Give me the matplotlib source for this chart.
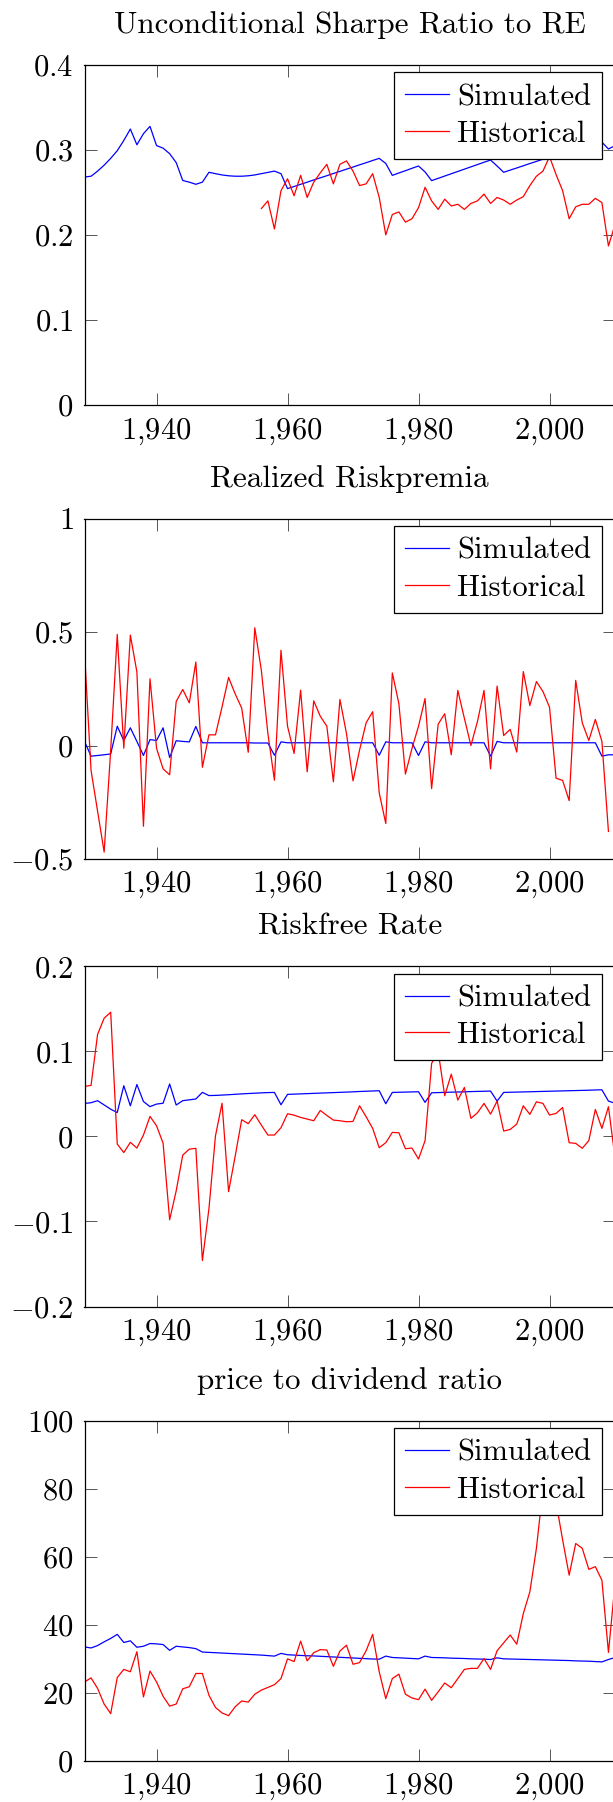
import matplotlib
matplotlib.use("Agg")
import matplotlib.pyplot as plt
from matplotlib.ticker import FuncFormatter, MultipleLocator

plt.rcParams['font.family'] = 'cmr10'
plt.rcParams['mathtext.fontset'] = 'cm'
plt.rcParams['axes.formatter.use_mathtext'] = True

# years 1929..2010
years = list(range(1929, 2011))

# Unconditional Sharpe ratio
sharpe_sim = [0.268, 0.269, 0.275, 0.282, 0.290, 0.299, 0.311, 0.3245, 0.306, 0.319,
              0.3276, 0.305, 0.302, 0.2955, 0.285, 0.264, 0.262, 0.2595, 0.262, 0.2736,
              0.272, 0.2705, 0.2695, 0.269, 0.269, 0.2695, 0.2705, 0.272, 0.2735, 0.275,
              0.272, 0.2544, 0.2569, 0.2595, 0.2620, 0.2646, 0.2671, 0.2696, 0.2722, 0.2747,
              0.2773, 0.2798, 0.2824, 0.2849, 0.2875, 0.290, 0.284, 0.270, 0.2728, 0.2755,
              0.2783, 0.281, 0.274, 0.2638, 0.2665, 0.2692, 0.2719, 0.2746, 0.2773, 0.280,
              0.2827, 0.2854, 0.288, 0.281, 0.2736, 0.2762, 0.2787, 0.2813, 0.2839, 0.2864,
              0.289, 0.2916, 0.2938, 0.296, 0.2982, 0.3004, 0.3026, 0.3048, 0.307, 0.309,
              0.301, 0.305]
sharpe_hist_years = list(range(1956, 2011))
sharpe_hist = [0.231, 0.240, 0.207, 0.252, 0.266, 0.246, 0.270, 0.244, 0.262, 0.273,
               0.283, 0.260, 0.283, 0.287, 0.275, 0.258, 0.260, 0.272, 0.244, 0.200,
               0.224, 0.227, 0.215, 0.219, 0.232, 0.256, 0.240, 0.230, 0.242, 0.234,
               0.236, 0.230, 0.237, 0.240, 0.248, 0.237, 0.244, 0.241, 0.236, 0.241,
               0.245, 0.258, 0.269, 0.275, 0.292, 0.271, 0.252, 0.219, 0.233, 0.236,
               0.236, 0.243, 0.238, 0.187, 0.212]

# Realized risk premia
rp_sim = [0.018, -0.047, -0.044, -0.041, -0.037, 0.085, 0.022, 0.078, 0.018, -0.044,
          0.026, 0.022, 0.078, -0.053, 0.021, 0.018, 0.016, 0.084, 0.012, 0.012,
          0.012, 0.012, 0.012, 0.012, 0.012, 0.012, 0.011, 0.011, 0.011, -0.043,
          0.016, 0.012, 0.012, 0.012, 0.012, 0.012, 0.012, 0.012, 0.012, 0.012,
          0.012, 0.012, 0.012, 0.012, 0.012, -0.043, 0.016, 0.012, 0.012, 0.012,
          0.012, -0.044, 0.016, 0.012, 0.012, 0.012, 0.012, 0.012, 0.012, 0.012,
          0.012, 0.012, -0.047, 0.018, 0.012, 0.012, 0.012, 0.012, 0.012, 0.012,
          0.012, 0.012, 0.012, 0.012, 0.012, 0.012, 0.012, 0.012, 0.012, -0.047,
          -0.041, -0.041]
rp_hist_years = list(range(1929, 2010))
rp_hist = [0.412, -0.11, -0.29, -0.47, -0.02, 0.49, -0.012, 0.487, 0.324, -0.356,
           0.294, -0.012, -0.103, -0.129, 0.194, 0.247, 0.188, 0.368, -0.096, 0.047,
           0.047, 0.17, 0.30, 0.228, 0.165, -0.03, 0.519, 0.332, 0.053, -0.153,
           0.42, 0.085, -0.035, 0.244, -0.116, 0.197, 0.129, 0.085, -0.16, 0.203,
           0.053, -0.156, -0.02, 0.1, 0.149, -0.209, -0.344, 0.32, 0.185, -0.126,
           -0.013, 0.085, 0.207, -0.19, 0.094, 0.14, -0.041, 0.243, 0.12, 0.0,
           0.106, 0.243, -0.103, 0.262, 0.044, 0.071, -0.029, 0.326, 0.176, 0.282,
           0.238, 0.169, -0.144, -0.154, -0.243, 0.287, 0.10, 0.022, 0.115, 0.018,
           -0.379]

# Riskfree rate
rf_sim = [0.0388, 0.0396, 0.042, 0.037, 0.032, 0.028, 0.0596, 0.036, 0.061, 0.041,
          0.035, 0.038, 0.039, 0.0616, 0.0369, 0.042, 0.043, 0.044, 0.0518, 0.048,
          0.0482, 0.0486, 0.049, 0.0495, 0.05, 0.0504, 0.0508, 0.0512, 0.0515, 0.0517,
          0.0372, 0.0494, 0.0497, 0.050, 0.0503, 0.0506, 0.0509, 0.0512, 0.0515, 0.0518,
          0.0521, 0.0524, 0.0528, 0.0531, 0.0534, 0.0537, 0.0384, 0.0517, 0.0519, 0.0521,
          0.0523, 0.0525, 0.040, 0.0513, 0.0515, 0.0518, 0.052, 0.0522, 0.0524, 0.0527,
          0.0529, 0.0531, 0.0533, 0.0415, 0.0517, 0.0519, 0.0521, 0.0523, 0.0525, 0.0527,
          0.0529, 0.0531, 0.0533, 0.0535, 0.0537, 0.0539, 0.0541, 0.0543, 0.0546, 0.0548,
          0.0415, 0.039]
rf_hist = [0.0588, 0.060, 0.120, 0.139, 0.146, -0.009, -0.019, -0.007, -0.0137, 0.0016,
           0.0235, 0.0125, -0.008, -0.098, -0.064, -0.022, -0.015, -0.014, -0.146, -0.085,
           0.0008, 0.039, -0.065, -0.0235, 0.0196, 0.015, 0.0255, 0.0133, 0.0016, 0.0016,
           0.0102, 0.0266, 0.025, 0.0223, 0.0204, 0.0184, 0.0305, 0.0247, 0.0192, 0.0184,
           0.0172, 0.0176, 0.036, 0.0231, 0.0094, -0.0133, -0.0074, 0.0047, 0.0043, -0.0145,
           -0.0137, -0.0266, -0.005, 0.0858, 0.100, 0.0478, 0.0732, 0.0427, 0.0576, 0.0212,
           0.0278, 0.0388, 0.0262, 0.0415, 0.0063, 0.0082, 0.0145, 0.036, 0.0259, 0.0407,
           0.0388, 0.0251, 0.027, 0.034, -0.0074, -0.0082, -0.014, -0.005, 0.0317, 0.0094,
           0.0349, -0.025]

# Price to dividend ratio
pd_sim = [33.5, 33.2, 33.9, 35.0, 36.0, 37.2, 34.8, 35.3, 33.4, 33.7,
          34.5, 34.4, 34.2, 32.5, 33.7, 33.5, 33.3, 33.0, 32.0, 31.9,
          31.8, 31.7, 31.6, 31.5, 31.4, 31.3, 31.2, 31.1, 30.95, 30.8,
          31.6, 31.2, 31.1, 31.0, 30.9, 30.85, 30.75, 30.65, 30.55, 30.45,
          30.35, 30.25, 30.15, 30.05, 29.95, 29.9, 30.8, 30.4, 30.3, 30.2,
          30.1, 30.0, 30.8, 30.4, 30.35, 30.3, 30.2, 30.15, 30.1, 30.0,
          29.95, 29.9, 29.8, 30.3, 30.0, 29.95, 29.9, 29.85, 29.8, 29.75,
          29.7, 29.65, 29.6, 29.55, 29.5, 29.4, 29.35, 29.3, 29.2, 29.1,
          29.8, 30.4]
pd_hist = [23.2, 24.4, 21.3, 16.7, 13.9, 24.5, 26.9, 26.2, 32.1, 18.8,
           26.4, 23.2, 19.0, 16.1, 16.7, 21.2, 21.8, 25.7, 25.7, 19.3,
           15.7, 14.1, 13.3, 15.9, 17.6, 17.3, 19.6, 20.8, 21.6, 22.4,
           24.2, 30.0, 29.2, 35.2, 29.4, 31.8, 32.7, 32.6, 27.8, 32.3,
           34.0, 28.4, 28.9, 32.4, 37.2, 26.2, 18.3, 24.2, 25.5, 19.6,
           18.5, 18.0, 21.1, 17.8, 20.3, 22.9, 21.5, 24.2, 26.9, 27.2,
           27.2, 30.1, 26.9, 32.4, 34.7, 37.0, 34.3, 43.3, 49.7, 62.5,
           80.0, 88.0, 76.0, 65.0, 54.6, 63.9, 62.5, 56.3, 57.1, 53.1,
           31.9, 52.0]

panels = [
    ("Unconditional Sharpe Ratio to RE", years, sharpe_sim, sharpe_hist_years, sharpe_hist, (0, 0.4), 0.1),
    ("Realized Riskpremia", years, rp_sim, rp_hist_years, rp_hist, (-0.5, 1), 0.5),
    ("Riskfree Rate", years, rf_sim, years, rf_hist, (-0.2, 0.2), 0.1),
    ("price to dividend ratio", years, pd_sim, years, pd_hist, (0, 100), 20),
]

W, H = 613, 1802
fig = plt.figure(figsize=(W / 100, H / 100), dpi=100)

left = 84.5 / W
width = 530.5 / W
tops = [64.8, 518.7, 966.3, 1420.7]
ax_h = 340.2


def ylab(v, pos):
    if abs(v) < 1e-9:
        v = 0
    return '$%g$' % v


def xlab(v, pos):
    v = int(round(v))
    return '$%d{,}%03d$' % (v // 1000, v % 1000)


for (title, xs, sim, hx, hist, ylim, step), top in zip(panels, tops):
    ax = fig.add_axes([left, 1 - (top + ax_h) / H, width, ax_h / H])
    ax.plot(xs, sim, color='blue', lw=0.9, label='Simulated')
    ax.plot(hx, hist, color='red', lw=0.9, label='Historical')
    ax.set_xlim(1929, 2010)
    ax.set_ylim(*ylim)
    ax.xaxis.set_major_locator(MultipleLocator(20))
    ax.yaxis.set_major_locator(MultipleLocator(step))
    ax.xaxis.set_major_formatter(FuncFormatter(xlab))
    ax.yaxis.set_major_formatter(FuncFormatter(ylab))
    ax.tick_params(direction='in', top=True, right=True, length=8.6, width=0.7,
                   color='#555555', pad=8, labelsize=22)
    for s in ax.spines.values():
        s.set_linewidth(0.9)
    ax.set_title(title, fontsize=22.4, pad=23)
    leg = ax.legend(loc='upper right', bbox_to_anchor=(0.976, 0.978), borderaxespad=0,
                    fontsize=22, handlelength=1.45, handletextpad=0.25, borderpad=0.37,
                    labelspacing=0.3, fancybox=False, framealpha=1, edgecolor='black')
    leg.get_frame().set_linewidth(0.9)

fig.savefig('out.png', dpi=100)
